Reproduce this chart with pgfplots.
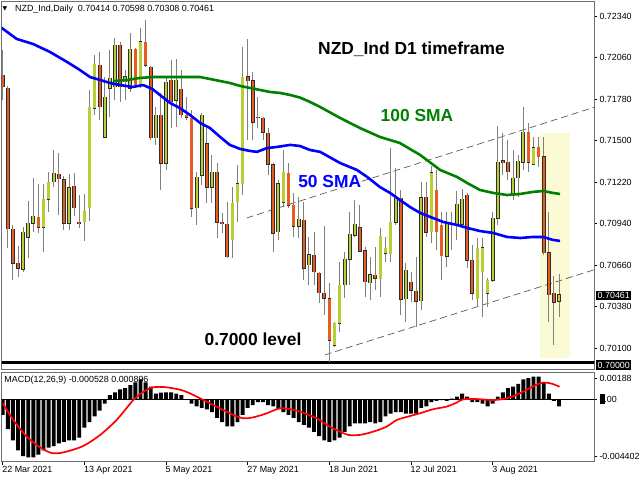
\documentclass[border=0pt]{standalone}
\usepackage{pgfplots}
\pgfplotsset{compat=1.18}
\usepackage{pgfplotstable}
\usepackage{fontspec}
\setmainfont{Liberation Sans}
\newfontfamily\dejavu{DejaVu Sans}
\definecolor{bullc}{RGB}{186,206,52}
\definecolor{bearc}{RGB}{232,92,32}
\definecolor{bodyln}{RGB}{45,45,45}
\definecolor{wickc}{RGB}{128,128,128}
\definecolor{hl}{RGB}{250,250,212}
\definecolor{smagreen}{RGB}{0,128,0}
\definecolor{framec}{RGB}{110,110,110}
\definecolor{chan}{RGB}{90,90,90}

\pgfplotstableread{
i o h l c
4 0.70633 0.70916 0.70613 0.70883
5 0.70849 0.71092 0.70707 0.70943
6 0.70943 0.71247 0.70883 0.70991
8 0.70916 0.71207 0.70748 0.71105
9 0.71105 0.71288 0.71018 0.71220
10 0.71220 0.71436 0.71186 0.71281
13 0.70943 0.71274 0.70896 0.71186
16 0.70950 0.71139 0.70822 0.71024
17 0.71045 0.71841 0.70957 0.71726
18 0.71719 0.72077 0.71672 0.72016
20 0.71524 0.71929 0.71517 0.71794
21 0.71854 0.72111 0.71659 0.71922
22 0.71861 0.72192 0.71773 0.72144
24 0.71895 0.71976 0.71773 0.71929
25 0.71854 0.72225 0.71827 0.72117
27 0.71875 0.72259 0.71854 0.72165
30 0.71517 0.71726 0.71470 0.71672
32 0.71348 0.71929 0.71301 0.71895
34 0.71773 0.72050 0.71591 0.71908
38 0.71045 0.71288 0.70930 0.71254
39 0.71267 0.71686 0.71200 0.71672
41 0.71186 0.71402 0.71078 0.71288
45 0.70829 0.71186 0.70707 0.71078
46 0.71085 0.71335 0.70950 0.71207
47 0.71207 0.72131 0.71132 0.71929
54 0.70883 0.71234 0.70829 0.71207
55 0.71085 0.71436 0.71051 0.71288
58 0.70923 0.71119 0.70842 0.70970
60 0.70660 0.70849 0.70525 0.70728
65 0.70120 0.70275 0.70107 0.70269
66 0.70269 0.70680 0.70208 0.70525
67 0.70525 0.70748 0.70437 0.70700
68 0.70700 0.71018 0.70525 0.70869
69 0.70862 0.71099 0.70849 0.70937
72 0.70539 0.70714 0.70424 0.70593
74 0.70566 0.70910 0.70444 0.70856
75 0.70741 0.70849 0.70680 0.70775
76 0.70734 0.71449 0.70680 0.70950
77 0.70950 0.71315 0.70930 0.71112
79 0.70431 0.70674 0.70275 0.70626
82 0.70417 0.71220 0.70356 0.71116
84 0.70883 0.71328 0.70809 0.71281
87 0.70721 0.71018 0.70647 0.70943
88 0.70937 0.71018 0.70761 0.70943
89 0.70937 0.71159 0.70829 0.71072
90 0.70937 0.71173 0.70930 0.71105
93 0.70431 0.70842 0.70377 0.70775
94 0.70613 0.70842 0.70309 0.70775
95 0.70471 0.70572 0.70377 0.70559
96 0.70559 0.71018 0.70545 0.70977
97 0.70977 0.71598 0.70930 0.71355
100 0.71139 0.71436 0.71099 0.71247
101 0.71247 0.71402 0.71119 0.71362
102 0.71355 0.71726 0.71301 0.71557
104 0.71341 0.71524 0.71335 0.71456
109 0.70414 0.70598 0.70308 0.70461
}\bull

\pgfplotstableread{
i o h l c
0 0.71942 0.72111 0.71773 0.71861
1 0.71854 0.71868 0.70775 0.70903
2 0.70903 0.70930 0.70559 0.70674
3 0.70674 0.70788 0.70579 0.70640
7 0.70984 0.71207 0.70876 0.70916
11 0.71274 0.71416 0.70997 0.71240
12 0.71240 0.71261 0.70896 0.70943
14 0.71193 0.71281 0.70991 0.71045
15 0.70950 0.71132 0.70910 0.70943
19 0.72009 0.72097 0.71638 0.71726
23 0.72144 0.72165 0.71760 0.71861
26 0.72117 0.72124 0.71854 0.71875
28 0.72165 0.72313 0.71996 0.72009
29 0.71996 0.72003 0.71503 0.71517
31 0.71672 0.71820 0.71166 0.71348
33 0.71908 0.72043 0.71584 0.71760
35 0.71847 0.71976 0.71652 0.71672
36 0.71672 0.71794 0.71638 0.71659
37 0.71652 0.71706 0.70984 0.71045
40 0.71483 0.71584 0.71078 0.71186
42 0.71288 0.71348 0.70842 0.70950
43 0.70950 0.71011 0.70876 0.70937
44 0.70937 0.71085 0.70707 0.70714
48 0.71929 0.72185 0.71503 0.71901
49 0.71908 0.71962 0.71503 0.71625
50 0.71659 0.71794 0.71584 0.71652
51 0.71652 0.71659 0.71503 0.71557
52 0.71551 0.71584 0.71267 0.71341
53 0.71341 0.71348 0.70748 0.70876
56 0.71281 0.71348 0.71045 0.71065
57 0.71065 0.71146 0.70849 0.70923
59 0.70964 0.71085 0.70559 0.70640
61 0.70728 0.70883 0.70525 0.70613
62 0.70606 0.70613 0.70404 0.70471
63 0.70471 0.70923 0.70323 0.70437
64 0.70437 0.70539 0.70006 0.70154
70 0.70916 0.71065 0.70748 0.70755
71 0.70755 0.70781 0.70444 0.70545
73 0.70593 0.70781 0.70491 0.70572
78 0.71112 0.71166 0.70323 0.70431
80 0.70545 0.70613 0.70410 0.70491
81 0.70485 0.70714 0.70242 0.70417
83 0.71119 0.71220 0.70849 0.70883
85 0.71166 0.71301 0.70761 0.70883
86 0.70930 0.71018 0.70559 0.70721
91 0.71132 0.71146 0.70640 0.70694
92 0.70694 0.70795 0.70424 0.70471
98 0.71362 0.71551 0.71267 0.71348
99 0.71355 0.71503 0.71234 0.71288
103 0.71557 0.71618 0.71288 0.71355
105 0.71456 0.71524 0.71321 0.71389
106 0.71389 0.71524 0.70728 0.70741
107 0.70741 0.71018 0.70275 0.70458
108 0.70471 0.70586 0.70120 0.70410
}\bear

\pgfplotstableread{
i v
0 -0.0011
1 -0.0021
2 -0.0029
3 -0.0036
4 -0.0040
5 -0.0041
6 -0.0041
7 -0.0039
8 -0.0036
9 -0.0034
10 -0.0033
11 -0.0031
12 -0.0030
13 -0.0029
14 -0.0029
15 -0.0027
16 -0.0020
17 -0.0016
18 -0.0012
19 -0.0008
20 -0.0003
21 0.0003
22 0.0005
23 0.0007
24 0.0008
25 0.0010
26 0.0012
27 0.0014
28 0.0012
29 0.0009
30 0.0004
31 0.00047
32 0.0005
33 0.0005
34 0.0004
35 0.0003
36 -0.00003
37 -0.0003
38 -0.0005
39 -0.0006
40 -0.0007
41 -0.0009
42 -0.0013
43 -0.0016
44 -0.0019
45 -0.0019
46 -0.0016
47 -0.0011
48 -0.0006
49 -0.0004
50 -0.0002
51 -0.0002
52 -0.0004
53 -0.0005
54 -0.0007
55 -0.0009
56 -0.0011
57 -0.0013
58 -0.0016
59 -0.0018
60 -0.0020
61 -0.0023
62 -0.0026
63 -0.0029
64 -0.0030
65 -0.0029
66 -0.0027
67 -0.0023
68 -0.0019
69 -0.0017
70 -0.0017
71 -0.0017
72 -0.0016
73 -0.0017
74 -0.0016
75 -0.0012
76 -0.0010
77 -0.0009
78 -0.0009
79 -0.0010
80 -0.0010
81 -0.0010
82 -0.0006
83 -0.0005
84 -0.0002
85 -0.0001
86 -0.00005
87 -0.0001
88 0.00005
89 0.0002
90 0.0004
91 0.0002
92 -0.0002
93 -0.0002
94 -0.0003
95 -0.0005
96 -0.0003
97 0.0002
98 0.0005
99 0.0008
100 0.0009
101 0.0011
102 0.0014
103 0.0015
104 0.0016
105 0.0016
106 0.0012
107 0.0004
108 -0.0001
109 -0.0005
}\macd

\pgfplotsset{
  wick/.style={draw=none, mark=none, forget plot,
    error bars/.cd, y dir=both, y explicit, error mark=none,
    error bar style={draw=wickc, line width=1pt, solid}},
  bodyout/.style={draw=none, mark=none, forget plot,
    error bars/.cd, y dir=both, y explicit, error mark=none,
    error bar style={draw=bodyln, line width=3.7pt, solid}},
  bodyin/.style={draw=none, mark=none, forget plot,
    error bars/.cd, y dir=both, y explicit, error mark=none,
    error bar style={draw=#1, line width=2.3pt, solid}},
}

\begin{document}
\begin{tikzpicture}
\path[use as bounding box] (0,0) rectangle (640pt,480pt);

% ---------------- main price panel ----------------
\begin{axis}[
  at={(1.5pt,110.7pt)}, anchor=south west,
  scale only axis, width=592.8pt, height=368pt,
  xmin=-0.235, xmax=115.91, ymin=0.69956, ymax=0.72439,
  scaled y ticks=false, scaled x ticks=false,
  axis line style={framec, line width=0.6pt},
  xtick=\empty,
  ytick={0.7234,0.7206,0.7178,0.7150,0.7122,0.7094,0.7066,0.7038,0.7010},
  yticklabels={0.72340,0.72060,0.71780,0.71500,0.71220,0.70940,0.70660,0.70380,0.70100},
  ytick pos=right, yticklabel pos=right,
  tick align=outside, major tick length=3pt,
  tick style={black, line width=0.6pt},
  yticklabel style={font=\fontsize{8.9}{10}\selectfont, anchor=west, inner sep=2pt},
]
% highlight box
\addplot[fill=hl, draw=none, forget plot] coordinates {(105.3,0.70035) (111.1,0.70035) (111.1,0.71551) (105.3,0.71551)};
% channel lines
\addplot[chan, line width=0.7pt, dash pattern=on 7pt off 4pt, forget plot] coordinates {(47.8,0.70977) (115.91,0.71724)};
\addplot[chan, line width=0.7pt, dash pattern=on 7pt off 4pt, forget plot] coordinates {(63.1,0.70053) (115.91,0.70628)};
% 0.7000 level
\addplot[black, line width=3pt, forget plot] coordinates {(-1,0.70000) (117,0.70000)};
% wicks
\addplot[wick] table[x=i, y expr={(\thisrow{h}+\thisrow{l})/2}, y error expr={(\thisrow{h}-\thisrow{l})/2}] {\bull};
\addplot[wick] table[x=i, y expr={(\thisrow{h}+\thisrow{l})/2}, y error expr={(\thisrow{h}-\thisrow{l})/2}] {\bear};
% bodies
\addplot[bodyout] table[x=i, y expr={(\thisrow{o}+\thisrow{c})/2}, y error expr={abs(\thisrow{c}-\thisrow{o})/2+0.00003}] {\bull};
\addplot[bodyout] table[x=i, y expr={(\thisrow{o}+\thisrow{c})/2}, y error expr={abs(\thisrow{c}-\thisrow{o})/2+0.00003}] {\bear};
\addplot[bodyin=bullc] table[x=i, y expr={(\thisrow{o}+\thisrow{c})/2}, y error expr={max(abs(\thisrow{c}-\thisrow{o})/2-0.00002,0)}] {\bull};
\addplot[bodyin=bearc] table[x=i, y expr={(\thisrow{o}+\thisrow{c})/2}, y error expr={max(abs(\thisrow{c}-\thisrow{o})/2-0.00002,0)}] {\bear};
% 100 SMA
\addplot[smagreen, line width=2.6pt, line join=round, forget plot] coordinates {
(21.6,0.71901) (24.4,0.71908) (26.9,0.71922) (29.5,0.71928) (32.8,0.71928) (36.7,0.71928)
(38.7,0.71928) (40.6,0.71915) (42.6,0.71901) (44.5,0.71888) (46.5,0.71868) (48.5,0.71854)
(50.4,0.71841) (52.4,0.71827) (54.3,0.71821) (56.3,0.71807) (58.2,0.71790) (60.2,0.71760)
(62.2,0.71726) (66.1,0.71652) (70.0,0.71584) (73.9,0.71524) (77.8,0.71483) (81.8,0.71402)
(85.7,0.71301) (89.0,0.71254) (91.0,0.71213) (93.5,0.71166) (96.1,0.71146) (98.8,0.71132)
(101.4,0.71139) (103.9,0.71153) (105.9,0.71159) (107.8,0.71146) (109.2,0.71139)};
% 50 SMA
\addplot[blue, line width=2.6pt, line join=round, forget plot] coordinates {
(-0.3,0.72262) (2.74,0.72185) (5.94,0.72151) (9.27,0.72097) (12.6,0.72030) (15.1,0.71976)
(17.1,0.71928) (19.1,0.71908) (21.0,0.71888) (23.0,0.71874) (25.5,0.71861) (27.5,0.71874)
(29.3,0.71848) (30.8,0.71807) (32.8,0.71753) (34.7,0.71719) (36.7,0.71672) (38.7,0.71618)
(40.6,0.71584) (42.6,0.71524) (44.5,0.71470) (46.5,0.71443) (48.5,0.71429) (49.8,0.71423)
(51.8,0.71449) (53.7,0.71456) (56.3,0.71470) (58.2,0.71463) (60.2,0.71436) (62.2,0.71423)
(66.1,0.71348) (69.4,0.71301) (71.4,0.71254) (73.9,0.71186) (75.9,0.71146) (77.8,0.71099)
(79.8,0.71051) (81.8,0.71011) (84.3,0.70977) (86.3,0.70950) (89.0,0.70930) (91.0,0.70910)
(93.5,0.70889) (96.1,0.70876) (98.8,0.70849) (101.4,0.70842) (103.9,0.70849) (105.9,0.70849)
(107.8,0.70829) (109.2,0.70822)};
\end{axis}

% ---------------- MACD panel ----------------
\begin{axis}[
  at={(1.5pt,18.3pt)}, anchor=south west,
  scale only axis, width=592.8pt, height=89pt,
  xmin=-0.235, xmax=115.91, ymin=-0.004402, ymax=0.00188,
  scaled y ticks=false, scaled x ticks=false,
  axis line style={framec, line width=0.6pt},
  xtick={0,16,32,48,64,80,96},
  xticklabels={22 Mar 2021,13 Apr 2021,5 May 2021,27 May 2021,18 Jun 2021,12 Jul 2021,3 Aug 2021},
  xtick pos=left,
  xticklabel style={font=\fontsize{8.9}{10}\selectfont, anchor=north west, inner sep=1pt, xshift=-1.5pt},
  ytick={0.001485,0,-0.004049},
  yticklabels={0.00188,\rlap{\rule[-2pt]{5pt}{10pt}}0.00,-0.004402},
  ytick pos=right, yticklabel pos=right,
  tick align=outside, major tick length=3pt,
  tick style={black, line width=0.6pt},
  yticklabel style={font=\fontsize{8.9}{10}\selectfont, anchor=west, inner sep=2pt},
]
\addplot[ybar, bar width=3.9pt, fill=black, draw=none, forget plot] table[x=i, y=v] {\macd};
\addplot[black, line width=0.8pt, forget plot] coordinates {(-1,0) (117,0)};
\addplot[red, line width=1.7pt, smooth, tension=0.5, forget plot] coordinates {
(0,-0.00028) (2.1,-0.00146) (4.7,-0.00263) (7.3,-0.00338) (9.3,-0.00376) (10.6,-0.00381)
(12.5,-0.00369) (15.8,-0.00329) (19.1,-0.00251) (22.3,-0.00146) (25.6,-0.00005) (27.6,0.00054)
(29.5,0.00085) (32.1,0.00085) (35.4,0.00061) (38.7,0.00007) (41.9,-0.00052) (45.2,-0.0011)
(47.2,-0.00134) (49.1,-0.00127) (51.7,-0.00099) (54.3,-0.00063) (56.3,-0.0007) (58.3,-0.00087)
(61.5,-0.00134) (64.1,-0.00193) (66.1,-0.00228) (67.7,-0.00251) (70.0,-0.00251) (72.6,-0.00228)
(75.2,-0.00193) (77.2,-0.00146) (79.8,-0.00118) (81.7,-0.00099) (84.3,-0.0007) (86.9,-0.00052)
(88.9,-0.00024) (90.2,0) (92.8,0.00002) (96.1,-0.00005) (98.7,0.00007) (101.3,0.00042)
(103.2,0.00078) (105.2,0.00113) (106.5,0.00118) (107.8,0.00108) (109.1,0.00089)};
\end{axis}

% ---------------- texts ----------------
\node[anchor=west, font=\dejavu\fontsize{6}{7}\selectfont, inner sep=0pt] at (2.5pt,471.5pt) {▼};
\node[anchor=west, font=\fontsize{8.9}{10}\selectfont, inner sep=0pt] at (15pt,471pt) {NZD\_Ind,Daily\ \ 0.70414 0.70598 0.70308 0.70461};
\node[anchor=west, font=\fontsize{8.9}{10}\selectfont, inner sep=0pt] at (4.3pt,99.7pt) {MACD(12,26,9) -0.000528 0.000896};
\node[font=\fontsize{17.4}{20}\selectfont\bfseries] at (411.5pt,431pt) {NZD\_Ind D1 timeframe};
\node[font=\fontsize{17.4}{20}\selectfont\bfseries, text=smagreen] at (417pt,364pt) {100 SMA};
\node[font=\fontsize{17.4}{20}\selectfont\bfseries, text=blue] at (329.7pt,298pt) {50 SMA};
\node[font=\fontsize{17.4}{20}\selectfont\bfseries] at (253pt,141pt) {0.7000 level};
\node[anchor=west, fill=black, text=white, font=\fontsize{8.9}{10}\selectfont, inner xsep=1.5pt, inner ysep=1.5pt] at (596pt,184.7pt) {0.70461};
\node[anchor=west, fill=black, text=white, font=\fontsize{8.9}{10}\selectfont, inner xsep=1.5pt, inner ysep=1.5pt] at (596pt,115pt) {0.70000};
\end{tikzpicture}
\end{document}
